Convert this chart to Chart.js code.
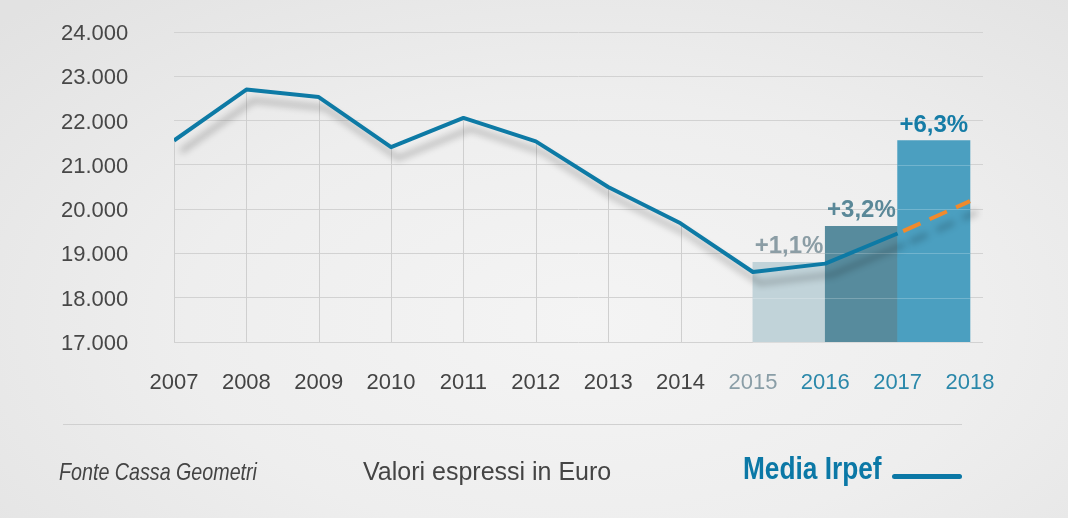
<!DOCTYPE html>
<html lang="it">
<head>
<meta charset="utf-8">
<title>Media Irpef</title>
<script src="https://cdn.jsdelivr.net/npm/chart.js@4.4.1/dist/chart.umd.min.js"></script>
<style>
  html, body { margin: 0; padding: 0; }
  body {
    width: 1068px; height: 518px; overflow: hidden; position: relative;
    background: radial-gradient(ellipse 75% 85% at 55% 62%, #f4f4f4 0%, #eeeeee 50%, #e2e2e2 100%);
    font-family: "Liberation Sans", Arial, sans-serif;
    color: #444;
  }
  #chart { position: absolute; left: 0; top: 0; }
  .note { position: absolute; line-height: 1; white-space: nowrap; transform-origin: 0 0; }
  #rule { position: absolute; left: 63px; top: 424px; width: 899px; height: 1px; background: #d0d0d0; }
  #source { left: 59px; top: 460px; font-size: 24px; font-style: italic; transform: scaleX(0.82); }
  #unit { left: 363px; top: 459px; font-size: 25px; }
  #legend { left: 743px; top: 452px; font-size: 32px; font-weight: bold; color: #0b78a6; transform: scaleX(0.82); }
  #legendLine { position: absolute; left: 892px; top: 474px; width: 70px; height: 5px; border-radius: 3px; background: #0b78a6; }
</style>
</head>
<body>
<canvas id="chart" width="1068" height="518"></canvas>
<div id="rule"></div>
<div class="note" id="source">Fonte Cassa Geometri</div>
<div class="note" id="unit">Valori espressi in Euro</div>
<div class="note" id="legend">Media Irpef</div>
<div id="legendLine"></div>
<script>
var years = [2007, 2008, 2009, 2010, 2011, 2012, 2013, 2014, 2015, 2016, 2017];
var irpef = [21550, 22700, 22530, 21400, 22060, 21530, 20500, 19680, 18580, 18770, 19450];
var forecastYears = [2017, 2018];
var forecast = [19450, 20180];
var barYears = [2015, 2016, 2017];
var barValues = [18800, 19610, 21550];
var barLabels = ["+1,1%", "+3,2%", "+6,3%"];
var barColors = ["#c1d3d9", "#578b9d", "#4b9fc0"];
var barLabelColors = ["#8b9da5", "#5a8898", "#157ca6"];

var family = '"Liberation Sans", Arial, sans-serif';
Chart.defaults.font.family = family;

function thousands(v) {
  return String(v).replace(/\B(?=(\d{3})+(?!\d))/g, ".");
}

function yearColor(y) {
  if (y === 2015) return "#8a9ea7";
  if (y >= 2016) return "#2b88aa";
  return "#444444";
}

// thin drop lines from each point of the main line down to the axis
var dropLines = {
  id: "dropLines",
  beforeDatasetsDraw: function (chart) {
    var ctx = chart.ctx;
    var meta = chart.getDatasetMeta(1);
    var bottom = chart.chartArea.bottom;
    ctx.save();
    ctx.strokeStyle = "#cfcfcf";
    ctx.lineWidth = 1;
    meta.data.forEach(function (pt) {
      ctx.beginPath();
      ctx.moveTo(Math.round(pt.x) + 0.5, pt.y);
      ctx.lineTo(Math.round(pt.x) + 0.5, bottom);
      ctx.stroke();
    });
    ctx.restore();
  }
};

// soft shadow under the lines, light grid over the bars, labels on bars
var decorations = {
  id: "decorations",
  beforeDatasetDraw: function (chart, args) {
    if (args.meta.type === "line") {
      var ctx = chart.ctx;
      ctx.save();
      ctx.shadowColor = "rgba(0,0,0,0.28)";
      ctx.shadowBlur = 7;
      ctx.shadowOffsetX = 7;
      ctx.shadowOffsetY = 11;
    }
  },
  afterDatasetDraw: function (chart, args) {
    var ctx = chart.ctx;
    if (args.meta.type === "line") {
      ctx.restore();
      return;
    }
    var yScale = chart.scales.y;
    ctx.save();
    ctx.strokeStyle = "rgba(255,255,255,0.22)";
    ctx.lineWidth = 1;
    args.meta.data.forEach(function (bar) {
      var left = bar.x - bar.width / 2;
      var right = bar.x + bar.width / 2;
      yScale.ticks.forEach(function (t) {
        var py = yScale.getPixelForValue(t.value);
        if (py > bar.y + 1 && py < bar.base - 1) {
          ctx.beginPath();
          ctx.moveTo(left, Math.round(py) + 0.5);
          ctx.lineTo(right, Math.round(py) + 0.5);
          ctx.stroke();
        }
      });
    });
    ctx.font = "bold 24px " + family;
    ctx.textAlign = "center";
    ctx.textBaseline = "alphabetic";
    args.meta.data.forEach(function (bar, i) {
      ctx.fillStyle = barLabelColors[i];
      ctx.fillText(barLabels[i], bar.x, bar.y - 9);
    });
    ctx.restore();
  }
};

new Chart(document.getElementById("chart").getContext("2d"), {
  data: {
    datasets: [
      {
        type: "bar",
        label: "Variazione",
        data: barYears.map(function (y, i) { return { x: y + 0.5, y: barValues[i] }; }),
        backgroundColor: barColors,
        borderWidth: 0,
        barPercentage: 1,
        categoryPercentage: 1,
        order: 3
      },
      {
        type: "line",
        label: "Media Irpef",
        data: years.map(function (y, i) { return { x: y, y: irpef[i] }; }),
        borderColor: "#0d7aa5",
        borderWidth: 4,
        pointRadius: 0,
        tension: 0,
        borderJoinStyle: "round",
        order: 1
      },
      {
        type: "line",
        label: "Stima",
        data: forecastYears.map(function (y, i) { return { x: y, y: forecast[i] }; }),
        borderColor: "#f08a2c",
        borderWidth: 4,
        borderDash: [19, 10],
        borderDashOffset: 23,
        pointRadius: 0,
        tension: 0,
        order: 2
      }
    ]
  },
  options: {
    responsive: false,
    animation: false,
    layout: { padding: { top: 32, right: 85, left: 61, bottom: 0 } },
    plugins: { legend: { display: false }, tooltip: { enabled: false } },
    scales: {
      x: {
        type: "linear",
        offset: false,
        min: 2007,
        max: 2018.18,
        afterFit: function (scale) { scale.height = 176; },
        grid: { display: false, drawTicks: false, offset: false },
        border: { display: false },
        ticks: {
          stepSize: 1,
          includeBounds: false,
          autoSkip: false,
          maxRotation: 0,
          padding: 28,
          font: { size: 22 },
          color: function (c) { return yearColor(c.tick.value); },
          callback: function (v) { return String(v); }
        }
      },
      y: {
        min: 17000,
        max: 24000,
        afterFit: function (scale) { scale.width = 113; },
        grid: { color: "#d2d2d2", lineWidth: 1, drawTicks: false },
        border: { display: false },
        ticks: {
          stepSize: 1000,
          padding: 0,
          crossAlign: "far",
          labelOffset: 2,
          font: { size: 22 },
          color: "#474747",
          callback: function (v) { return thousands(v); }
        }
      }
    }
  },
  plugins: [dropLines, decorations]
});
</script>
</body>
</html>
